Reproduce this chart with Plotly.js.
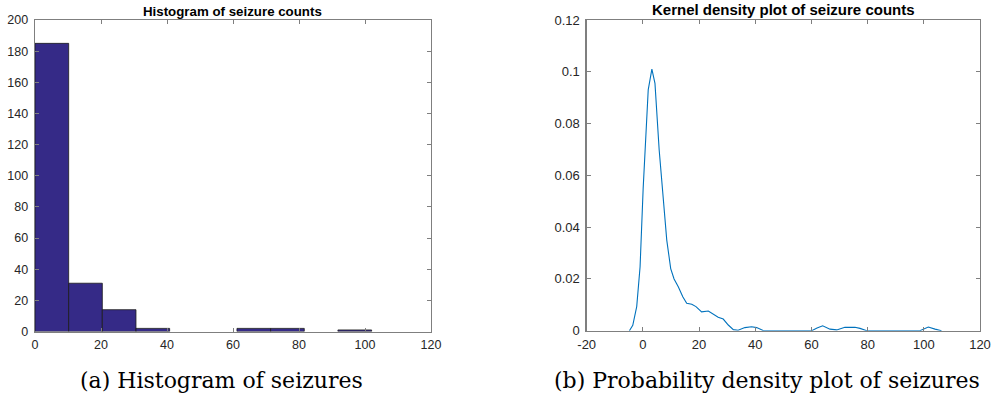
<!DOCTYPE html>
<html>
<head>
<meta charset="utf-8">
<script src="https://cdn.plot.ly/plotly-3.0.1.min.js"></script>
<style>html,body{margin:0;padding:0;background:#fff}#chart{width:996px;height:394px}</style>
</head>
<body>
<div id="chart"></div>
<script>
// ---- Histogram data (MATLAB hist, 10 bins over 0..102) ----
var histBinCenters = [5.1, 15.3, 25.5, 35.7, 45.9, 56.1, 66.3, 76.5, 86.7, 96.9];
var histBinWidth = 10.2;
var histCounts = [185, 31, 14, 2, 0, 0, 2, 2, 0, 1];
var histXTicks = [0, 20, 40, 60, 80, 100, 120];
var histYTicks = [0, 20, 40, 60, 80, 100, 120, 140, 160, 180, 200];

// ---- Kernel density data ----
var densX = [-4.8, -3.6, -2.2, -1.0, 0.1, 1.0, 1.9, 3.2, 4.3, 5.8, 6.7, 7.3, 8.5, 9.9, 11.1, 12.6, 14.2, 15.6, 17.4, 18.9, 20.9, 23.3, 25.1, 26.8, 28.6, 30.4, 32.2, 33.9, 36.3, 38.7, 40.5, 42.8, 45, 60.1, 62, 64, 66.6, 69, 71.9, 75.5, 77.3, 79.7, 98.6, 100, 101.6, 104, 106.3];
var densY = [0, 0.0021, 0.0093, 0.0247, 0.055, 0.077, 0.093, 0.101, 0.0955, 0.0698, 0.058, 0.0505, 0.035, 0.024, 0.020, 0.017, 0.0131, 0.0106, 0.0102, 0.0093, 0.0073, 0.0076, 0.0064, 0.0052, 0.0045, 0.0022, 0.0004, 0.0002, 0.0012, 0.0015, 0.0012, 0.0001, 0, 0, 0.0010, 0.0019, 0.0006, 0.0003, 0.0013, 0.0013, 0.0009, 0, 0, 0.0008, 0.0014, 0.0006, 0];
var densXTicks = [-20, 0, 20, 40, 60, 80, 100, 120];
var densXTickText = ['-20', '0', '20', '40', '60', '80', '100', '120'];
var densYTicks = [0, 0.02, 0.04, 0.06, 0.08, 0.1, 0.12];
var densYTickText = ['0', '0.02', '0.04', '0.06', '0.08', '0.1', '0.12'];

var titles = ['Histogram of seizure counts', 'Kernel density plot of seizure counts'];
var captions = ['(a) Histogram of seizures', '(b) Probability density plot of seizures'];

var W = 996, H = 394;
function px(x) { return x / W; }
function py(y) { return (H - y) / H; }

var sans = 'Liberation Sans, Arial, sans-serif';
var leftTickFont = {family: sans, size: 12.5, color: '#262626'};
var rightTickFont = {family: sans, size: 13, color: '#262626'};
var axisCommon = {
  showline: true, linecolor: '#7f7f7f', linewidth: 1.3, mirror: 'ticks',
  ticks: 'inside', ticklen: 4, tickwidth: 1, tickcolor: '#7f7f7f',
  showgrid: false, zeroline: false, fixedrange: true
};

// no outline for empty bins (as in the reference)
var histLineWidths = histCounts.map(function (c) { return c > 0 ? 0.8 : 0; });

var traces = [
  {
    type: 'bar', x: histBinCenters, y: histCounts, width: histBinWidth,
    marker: {color: '#352a87', line: {color: '#1a1a1a', width: histLineWidths}},
    xaxis: 'x', yaxis: 'y', hoverinfo: 'x+y'
  },
  {
    type: 'scatter', mode: 'lines', x: densX, y: densY,
    line: {color: '#0072bd', width: 1.1},
    xaxis: 'x2', yaxis: 'y2'
  }
];

var layout = {
  width: W, height: H,
  margin: {l: 0, r: 0, t: 0, b: 0},
  paper_bgcolor: '#ffffff', plot_bgcolor: '#ffffff',
  showlegend: false, bargap: 0,
  xaxis: Object.assign({}, axisCommon, {
    domain: [px(35), px(431)], range: [0, 120], anchor: 'y', tickfont: leftTickFont,
    tickmode: 'array', tickvals: histXTicks, ticklabelstandoff: 1
  }),
  yaxis: Object.assign({}, axisCommon, {
    domain: [py(331.5), py(20)], range: [0, 200], anchor: 'x', tickfont: leftTickFont,
    tickmode: 'array', tickvals: histYTicks, ticklabelstandoff: 3
  }),
  xaxis2: Object.assign({}, axisCommon, {
    domain: [px(586.7), px(980)], range: [-20, 120], anchor: 'y2', tickfont: rightTickFont,
    tickmode: 'array', tickvals: densXTicks, ticktext: densXTickText, ticklabelstandoff: 1
  }),
  yaxis2: Object.assign({}, axisCommon, {
    domain: [py(330.7), py(20)], range: [0, 0.12], anchor: 'x2', tickfont: rightTickFont,
    tickmode: 'array', tickvals: densYTicks, ticktext: densYTickText, ticklabelstandoff: 3
  }),
  annotations: [
    {text: '<b>' + titles[0] + '</b>', xref: 'paper', yref: 'paper', x: px(232.7), y: py(11),
     xanchor: 'center', yanchor: 'middle', showarrow: false,
     font: {family: sans, size: 13.3, color: '#000'}},
    {text: '<b>' + titles[1] + '</b>', xref: 'paper', yref: 'paper', x: px(783.3), y: py(10),
     xanchor: 'center', yanchor: 'middle', showarrow: false,
     font: {family: sans, size: 15, color: '#000'}},
    {text: captions[0], xref: 'paper', yref: 'paper', x: px(221.5), y: py(380),
     xanchor: 'center', yanchor: 'middle', showarrow: false,
     font: {family: 'DejaVu Serif, serif', size: 22, color: '#000'}},
    {text: captions[1], xref: 'paper', yref: 'paper', x: px(551.7), y: py(380),
     xanchor: 'left', yanchor: 'middle', showarrow: false,
     font: {family: 'DejaVu Serif, serif', size: 22, color: '#000'}}
  ]
};

Plotly.newPlot('chart', traces, layout, {displayModeBar: false, staticPlot: true});
</script>
</body>
</html>
